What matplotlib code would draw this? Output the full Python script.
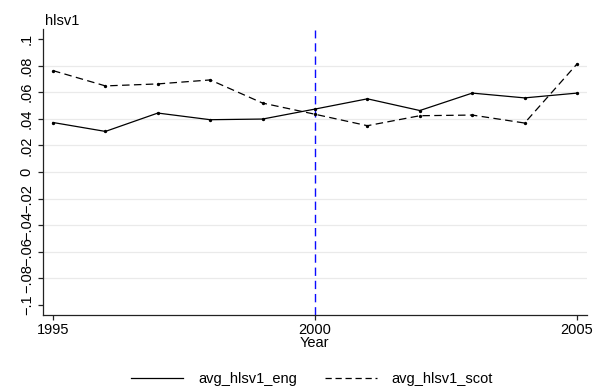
import matplotlib
matplotlib.use('Agg')
import matplotlib.pyplot as plt
from matplotlib.lines import Line2D

plt.rcParams['font.family'] = ['Liberation Sans', 'DejaVu Sans']

# data
years = [1995, 1996, 1997, 1998, 1999, 2000, 2001, 2002, 2003, 2004, 2005]
avg_hlsv1_eng = [0.0372, 0.0305, 0.0443, 0.0393, 0.0398, 0.0473, 0.0550, 0.0462, 0.0593, 0.0557, 0.0593]
avg_hlsv1_scot = [0.0762, 0.0647, 0.0662, 0.0692, 0.0518, 0.0434, 0.0348, 0.0423, 0.0428, 0.0368, 0.0812]
yticks = [-0.1, -0.08, -0.06, -0.04, -0.02, 0, 0.02, 0.04, 0.06, 0.08, 0.1]
ytick_labels = ['\u2212.1', '\u2212.08', '\u2212.06', '\u2212.04', '\u2212.02', '0',
                '.02', '.04', '.06', '.08', '.1']
xticks = [1995, 2000, 2005]
xline_year = 2000

W, H = 602, 392
fig = plt.figure(figsize=(W / 100, H / 100), dpi=100)
ax = fig.add_axes([43 / W, 1 - 314.5 / H, (586.7 - 43) / W, (314.5 - 29.5) / H])

# grid lines (interior ticks only)
for y in yticks[1:-1]:
    ax.axhline(y, color='#eaeaea', lw=0.9, zorder=0)

ax.plot(years, avg_hlsv1_eng, color='black', lw=0.9, marker='o', ms=1.4)
ax.plot(years, avg_hlsv1_scot, color='black', lw=0.9, marker='o', ms=1.4,
        dashes=(6, 3.5))
ax.axvline(xline_year, color='#0a0aff', lw=1.0, dashes=(6, 3.5), zorder=1)

ax.set_xlim(1994.809, 2005.185)
ax.set_ylim(-0.1071, 0.1071)
ax.set_xticks(xticks)
ax.set_yticks(yticks)
ax.set_yticklabels(ytick_labels, rotation=90, va='center')

for s in ['top', 'right']:
    ax.spines[s].set_visible(False)
for s in ['left', 'bottom']:
    ax.spines[s].set_color('#222222')
    ax.spines[s].set_linewidth(0.9)

ax.tick_params(axis='both', direction='out', length=3.6, width=0.9,
               color='#222222', labelsize=10.5)
ax.tick_params(axis='y', pad=3.0)
ax.tick_params(axis='x', pad=2.5)

ax.set_xlabel('Year', fontsize=10.5, labelpad=-1)
fig.text(45 / W, 1 - 25 / H, 'hlsv1', fontsize=10.5, ha='left', va='baseline')

handles = [Line2D([], [], color='black', lw=0.9),
           Line2D([], [], color='black', lw=0.9, dashes=(5, 3))]
fig.legend(handles, ['avg_hlsv1_eng', 'avg_hlsv1_scot'], loc='center',
           bbox_to_anchor=(312 / W, 1 - 379 / H), ncol=2, frameon=False,
           fontsize=10.5, handlelength=3.6, handletextpad=1.0,
           columnspacing=1.9)

fig.savefig('out.png', dpi=100)
